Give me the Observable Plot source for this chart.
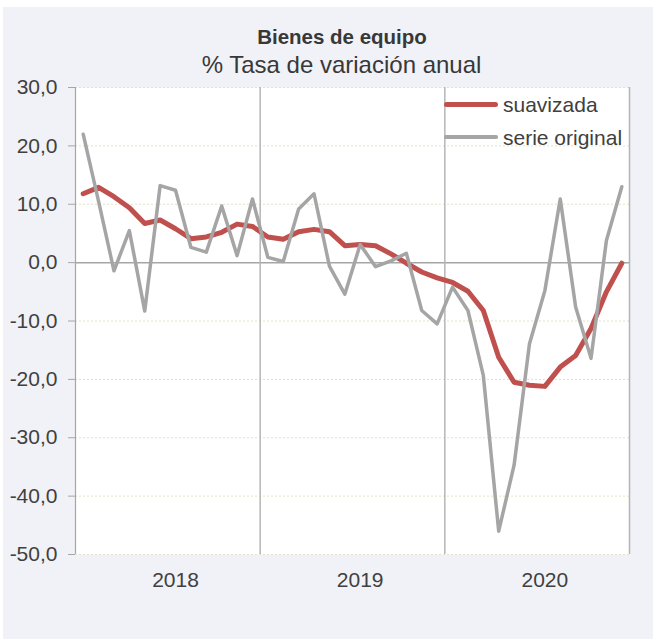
<!DOCTYPE html>
<html>
<head>
<meta charset="utf-8">
<script src="https://cdn.jsdelivr.net/npm/d3@7"></script>
<script src="https://cdn.jsdelivr.net/npm/@observablehq/plot@0.6"></script>
<style>
  html, body { margin: 0; padding: 0; background: #ffffff; }
  #wrap { position: relative; width: 653px; height: 639px; overflow: hidden;
          font-family: "Liberation Sans", Arial, sans-serif; color: #404040; }
  #panel { position: absolute; left: 3px; top: 7px; width: 650px; height: 632px; background: #f0f2f7; }
  .t { position: absolute; white-space: nowrap; }
  #chart { position: absolute; left: 0; top: 0; }
</style>
</head>
<body>
<div id="wrap">
  <div id="panel"></div>
  <div id="chart"></div>
  <div class="t" style="left:342px;top:27px;transform:translateX(-50%);font-size:20.5px;line-height:20.5px;font-weight:bold;color:#383838;">Bienes de equipo</div>
  <div class="t" style="left:341.5px;top:53px;transform:translateX(-50%);font-size:24px;line-height:24px;color:#383838;">% Tasa de variación anual</div>
  <div id="legend"></div>
</div>
<script>
const years = ["2018", "2019", "2020"];
const monthNames = ["ene","feb","mar","abr","may","jun","jul","ago","sep","oct","nov","dic"];
const months = years.flatMap(y => monthNames.map(m => `${m} ${y}`));

const suavizada = [11.8, 12.9, 11.3, 9.4, 6.7, 7.3, 5.8, 4.1, 4.4, 5.2, 6.6, 6.2,
                   4.4, 4.0, 5.3, 5.7, 5.3, 2.9, 3.1, 2.9, 1.5, -0.1, -1.6, -2.6,
                   -3.4, -4.9, -8.2, -16.2, -20.5, -21.0, -21.2, -17.9, -15.9, -11.3, -5.0, -0.1];
const original = [22.0, 10.5, -1.4, 5.5, -8.3, 13.2, 12.4, 2.6, 1.8, 9.7, 1.2, 10.9,
                  0.9, 0.2, 9.2, 11.8, -0.6, -5.4, 3.1, -0.7, 0.3, 1.6, -8.2, -10.5,
                  -4.2, -8.2, -19.3, -46.0, -34.7, -13.9, -4.8, 10.9, -7.6, -16.4, 3.8, 13.0];
const yTicks = [-50, -40, -30, -20, -10, 0, 10, 20, 30];
const seriesNames = ["suavizada", "serie original"];
const seriesColors = ["#c0504d", "#a5a5a5"];

const data = months.map((m, i) => ({ i, m, suav: suavizada[i], orig: original[i] }));
const xDomain = [-0.5, months.length - 0.5];
const separators = years.slice(1).map((_, k) => (k + 1) * monthNames.length - 0.5);
const yearTicks = years.map((_, k) => k * monthNames.length + 6);
const fmt = v => v.toFixed(1).replace(".", ",");

const chart = Plot.plot({
  width: 653,
  height: 639,
  marginLeft: 75,
  marginRight: 24,
  marginTop: 87,
  marginBottom: 85,
  style: { background: "transparent", fontFamily: "Liberation Sans, Arial, sans-serif", fontSize: "21px", color: "#404040", overflow: "visible" },
  x: { type: "linear", domain: xDomain },
  y: { domain: [yTicks[0], yTicks[yTicks.length - 1]] },
  marks: [
    Plot.frame({ fill: "white", stroke: "none" }),
    Plot.ruleY(yTicks.filter(v => v !== 0), { stroke: "#e2e2c6", strokeDasharray: "2,2", strokeWidth: 1 }),
    Plot.ruleY([0], { stroke: "#a6a6a6", strokeWidth: 1.5 }),
    Plot.ruleX(separators, { stroke: "#b5b5b5", strokeWidth: 1.5 }),
    Plot.ruleX([xDomain[1]], { stroke: "#b5b5b5", strokeWidth: 1.5 }),
    Plot.ruleX([xDomain[0]], { stroke: "#a6a6a6", strokeWidth: 1.2 }),
    Plot.line(data, { x: "i", y: "suav", stroke: seriesColors[0], strokeWidth: 5, strokeLinecap: "round", strokeLinejoin: "round" }),
    Plot.line(data, { x: "i", y: "orig", stroke: seriesColors[1], strokeWidth: 3.5, strokeLinecap: "round", strokeLinejoin: "round" }),
    Plot.axisY({ ticks: yTicks, tickFormat: fmt, tickSize: 7, tickPadding: 11, stroke: "#a6a6a6", fill: "#404040", label: null }),
    Plot.axisX({ ticks: yearTicks, tickFormat: i => years[Math.round((i - 6) / monthNames.length)], tickSize: 0, tickPadding: 18, fill: "#404040", label: null })
  ]
});
document.getElementById("chart").append(chart);

// legend (HTML overlay)
const legend = document.getElementById("legend");
const rows = [
  { top: 93.9, lineTop: 101.5, h: 5 },
  { top: 126.5, lineTop: 135, h: 3.5 }
];
seriesNames.forEach((name, k) => {
  const line = document.createElement("div");
  line.style.cssText = `position:absolute;left:444px;top:${rows[k].lineTop}px;width:54px;height:${rows[k].h}px;background:${seriesColors[k]};border-radius:${rows[k].h / 2}px;`;
  legend.append(line);
  const txt = document.createElement("div");
  txt.className = "t";
  txt.style.cssText += `left:503px;top:${rows[k].top}px;font-size:21px;line-height:21px;`;
  txt.textContent = name;
  legend.append(txt);
});
</script>
</body>
</html>
